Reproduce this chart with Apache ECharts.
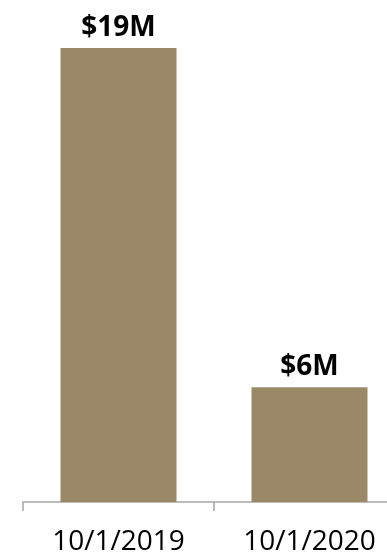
<!DOCTYPE html>
<html>
<head>
<meta charset="utf-8">
<script src="https://cdn.jsdelivr.net/npm/echarts@6/dist/echarts.min.js"></script>
<style>html,body{margin:0;padding:0;background:#fff}#c{width:387px;height:557px}</style>
</head>
<body>
<div id="c"></div>
<script>
const categories = ['10/1/2019', '10/1/2020'];
const values = [19, 6];
const labelTexts = ['$19M', '$6M'];

const chart = echarts.init(document.getElementById('c'), null, {renderer: 'canvas'});
chart.setOption({
  animation: false,
  grid: {left: 23, top: 48, width: 382, bottom: 55, containLabel: false, outerBoundsMode: 'none'},
  xAxis: {
    type: 'category',
    data: categories,
    axisLine: {lineStyle: {color: '#A6A6A6', width: 1.5}},
    axisTick: {show: true, length: 9, lineStyle: {color: '#A6A6A6', width: 1.5}},
    axisLabel: {color: '#000', fontFamily: 'Open Sans', fontSize: 28, margin: 26}
  },
  yAxis: {
    type: 'value', min: 1.6, max: 19, show: false,
    splitLine: {show: false}
  },
  series: [{
    type: 'bar',
    data: values,
    barWidth: 116,
    itemStyle: {color: '#9A8866'},
    label: {
      show: true, position: 'top', distance: 6,
      color: '#000', fontFamily: 'Open Sans', fontWeight: 'bold', fontSize: 28,
      formatter: p => labelTexts[p.dataIndex]
    }
  }]
});
</script>
</body>
</html>
